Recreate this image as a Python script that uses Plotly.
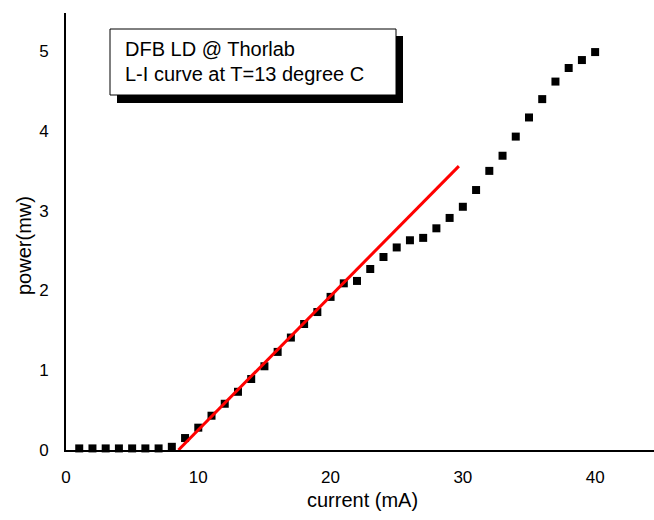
import plotly.graph_objects as go

# Measured L-I data
current_mA = list(range(1, 41))
power_mw = [0.02, 0.02, 0.02, 0.02, 0.02, 0.02, 0.02, 0.04, 0.15, 0.28,
            0.43, 0.58, 0.73, 0.89, 1.05, 1.23, 1.41, 1.58, 1.73, 1.92,
            2.09, 2.12, 2.27, 2.42, 2.54, 2.63, 2.66, 2.78, 2.91, 3.05,
            3.26, 3.50, 3.69, 3.93, 4.17, 4.40, 4.62, 4.79, 4.89, 4.99]

# Linear fit line
fit_current = [8.5, 29.7]
fit_power = [0.0, 3.56]

x_title = "current (mA)"
y_title = "power(mw)"
box_lines = ["DFB LD @ Thorlab", "L-I curve at T=13 degree C"]

x_major = [0, 10, 20, 30, 40]
x_minor = [5, 15, 25, 35]
y_major = [0, 1, 2, 3, 4, 5]
y_minor = [0.5, 1.5, 2.5, 3.5, 4.5]

x_range = [0, 44.45]
y_range = [0, 5.48]

W, H = 654, 520
ML, MR, MT, MB = 66, 0, 13, 70
MAJ, MIN = 9, 6

pw = W - ML - MR
ph = H - MT - MB
x_per_px = (x_range[1] - x_range[0]) / pw
y_per_px = (y_range[1] - y_range[0]) / ph

fig = go.Figure()
fig.add_trace(go.Scatter(x=current_mA, y=power_mw, mode="markers",
                         marker=dict(symbol="square", size=8, color="black", line=dict(width=0)),
                         cliponaxis=False, showlegend=False, hoverinfo="x+y"))
fig.add_trace(go.Scatter(x=fit_current, y=fit_power, mode="lines",
                         line=dict(color="#ff0000", width=3),
                         cliponaxis=False, showlegend=False))

# Tick marks drawn as unclipped line markers just outside the axes
for vals, ln in ((x_major, MAJ), (x_minor, MIN)):
    fig.add_trace(go.Scatter(x=vals, y=[y_range[0] - ln / 2 * y_per_px] * len(vals),
                             mode="markers", cliponaxis=False, showlegend=False, hoverinfo="skip",
                             marker=dict(symbol="line-ns", size=ln, color="black",
                                         line=dict(color="black", width=2))))
for vals, ln in ((y_major, MAJ), (y_minor, MIN)):
    fig.add_trace(go.Scatter(x=[x_range[0] - ln / 2 * x_per_px] * len(vals), y=vals,
                             mode="markers", cliponaxis=False, showlegend=False, hoverinfo="skip",
                             marker=dict(symbol="line-ew", size=ln, color="black",
                                         line=dict(color="black", width=2))))

font = "Liberation Sans, Arial, sans-serif"

fig.update_layout(
    xaxis=dict(range=x_range, tickmode="array", tickvals=x_major,
               ticktext=[str(v) for v in x_major],
               showgrid=False, zeroline=False, showline=True, linecolor="black", linewidth=2,
               ticks="", ticklabelstandoff=11,
               tickfont=dict(family=font, size=17, color="black")),
    yaxis=dict(range=y_range, tickmode="array", tickvals=y_major,
               ticktext=[str(v) for v in y_major],
               showgrid=False, zeroline=False, showline=True, linecolor="black", linewidth=2,
               ticks="", ticklabelstandoff=12,
               tickfont=dict(family=font, size=17, color="black")),
)

def px_x(p):
    return (p - ML) / pw
def px_y(p):
    return 1 - (p - MT) / ph

# Axis titles
fig.add_annotation(xref="paper", yref="paper", x=px_x(363), y=px_y(500),
                   xanchor="center", yanchor="middle", showarrow=False, text=x_title,
                   font=dict(family=font, size=20, color="black"))
fig.add_annotation(xref="paper", yref="paper", x=px_x(24), y=px_y(246),
                   xanchor="center", yanchor="middle", showarrow=False, text=y_title,
                   textangle=-90, font=dict(family=font, size=20, color="black"))

# Text box with drop shadow
fig.add_shape(type="rect", xref="paper", yref="paper",
              x0=px_x(117), x1=px_x(403), y0=px_y(103), y1=px_y(36),
              fillcolor="black", line=dict(width=0), layer="above")
fig.add_shape(type="rect", xref="paper", yref="paper",
              x0=px_x(110), x1=px_x(396), y0=px_y(95), y1=px_y(29),
              fillcolor="white", line=dict(color="black", width=1), layer="above")
for line_text, ymid in zip(box_lines, [49, 73.5]):
    fig.add_annotation(xref="paper", yref="paper", x=px_x(123), y=px_y(ymid),
                       xanchor="left", yanchor="middle", align="left", showarrow=False,
                       text=line_text, font=dict(family=font, size=20, color="black"))

fig.update_layout(width=W, height=H, margin=dict(l=ML, r=MR, t=MT, b=MB),
                  paper_bgcolor="white", plot_bgcolor="white", template="none")

fig.write_html("out.html")
